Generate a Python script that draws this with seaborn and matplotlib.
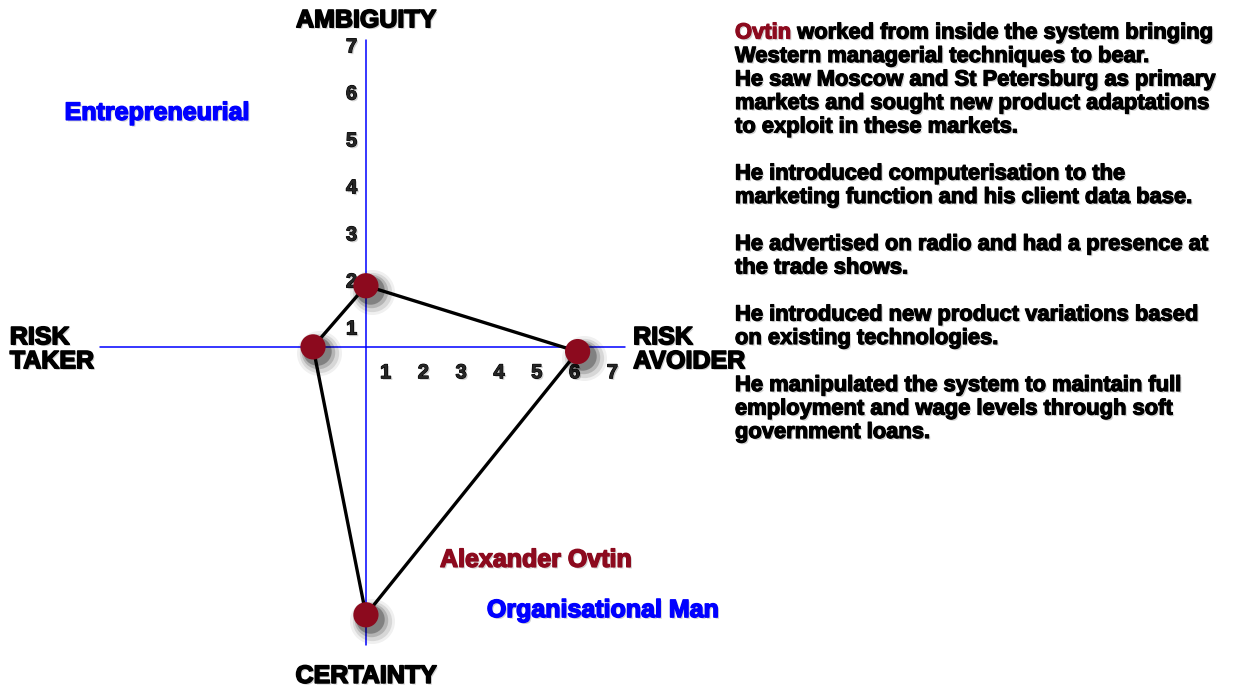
import matplotlib
matplotlib.use("Agg")
import matplotlib.pyplot as plt
import matplotlib.patheffects as pe
import matplotlib.transforms as mtrans
import pandas as pd
import seaborn as sns

# --- chart data (axis units, origin at the crossing of the two axes) ---
point_names = ["Ambiguity", "Risk avoider", "Certainty", "Risk taker"]
point_x = [0.0, 5.6, 0.0, -1.4]
point_y = [1.3, -0.1, -5.7, 0.0]

tick_values = [1, 2, 3, 4, 5, 6, 7]

story_lines = [
    "Western managerial techniques to bear.",
    "He saw Moscow and St Petersburg as primary",
    "markets and sought new product adaptations",
    "to exploit in these markets.",
    "",
    "He introduced computerisation to the",
    "marketing function and his client data base.",
    "",
    "He advertised on radio and had a presence at",
    "the trade shows.",
    "",
    "He introduced new product variations based",
    "on existing technologies.",
    "",
    "He manipulated the system to maintain full",
    "employment and wage levels through soft",
    "government loans.",
]

DARK_RED = "#8c0a1e"
BLUE = "#0000ff"

sns.set_style("white")
plt.rcParams["font.family"] = ["Liberation Sans", "DejaVu Sans"]
plt.rcParams["font.weight"] = "bold"

fig = plt.figure(figsize=(12.35, 6.9), dpi=100)
ax = fig.add_axes([0, 0, 1, 1])
ax.set_xlim(-9.68, 22.99)
ax.set_ylim(-7.30, 7.38)
ax.axis("off")


def heavy(color, width=0.9):
    # thicken the bold face a little and add a soft drop shadow
    return [pe.withSimplePatchShadow(offset=(1.2, -1.2), shadow_rgbFace="grey", alpha=0.35),
            pe.withStroke(linewidth=width, foreground=color)]


# --- axes cross ---
ax.plot([0, 0], [-6.34, 6.53], color=BLUE, lw=1.1, zorder=1)
ax.plot([-7.04, 6.85], [0, 0], color=BLUE, lw=1.1, zorder=1)

for v in tick_values:
    ax.text(v - 0.48, -0.55, str(v), ha="center", va="center", fontsize=14.5,
            fontweight="bold", path_effects=heavy("black", 0.8))
    ax.text(-0.38, v - 0.62, str(v), ha="center", va="center", fontsize=14.5,
            fontweight="bold", path_effects=heavy("black", 0.8))

# --- polygon joining the four positions ---
df = pd.DataFrame({"name": point_names, "x": point_x, "y": point_y})
closed = pd.concat([df, df.iloc[[0]]], ignore_index=True)
sns.lineplot(data=closed, x="x", y="y", sort=False, estimator=None,
             color="black", lw=2.4, ax=ax, zorder=2)

# blurred drop shadow under the markers
for off, size, a in [(6, 1050, 0.06), (6, 800, 0.10), (5, 580, 0.16), (4, 420, 0.28)]:
    shift = ax.transData + mtrans.ScaledTranslation(off / 100, -off / 100, fig.dpi_scale_trans)
    ax.scatter(df["x"], df["y"], s=size, color="black", alpha=a, linewidths=0,
               transform=shift, zorder=3)
sns.scatterplot(data=df, x="x", y="y", s=330, color=DARK_RED, edgecolor="none",
                ax=ax, zorder=4, legend=False)

# --- axis labels ---
big = dict(fontsize=18, fontweight="bold", color="black", path_effects=heavy("black", 1.2))
ax.text(0, 6.95, "AMBIGUITY", ha="center", va="center", **big)
ax.text(0, -7.0, "CERTAINTY", ha="center", va="center", **big)
ax.text(-9.42, -0.05, "RISK\nTAKER", ha="left", va="center", linespacing=1.0, **big)
ax.text(7.07, -0.05, "RISK\nAVOIDER", ha="left", va="center", linespacing=1.0, **big)

ax.text(-7.97, 4.98, "Entrepreneurial", ha="left", va="center", fontsize=18,
        fontweight="bold", color=BLUE, path_effects=heavy(BLUE, 1.1))
ax.text(3.2, -5.6, "Organisational Man", ha="left", va="center", fontsize=18,
        fontweight="bold", color=BLUE, path_effects=heavy(BLUE, 1.1))
ax.text(1.96, -4.53, "Alexander Ovtin", ha="left", va="center", fontsize=18,
        fontweight="bold", color=DARK_RED, path_effects=heavy(DARK_RED, 1.1))

# --- narrative panel ---
body = dict(fontsize=15.8, fontweight="bold")
first = fig.text(735 / 1235, 1 - 33 / 690, "Ovtin", ha="left", va="center",
                 color=DARK_RED, path_effects=heavy(DARK_RED), **body)
ax.annotate(" worked from inside the system bringing", xy=(1, 0.5),
            xycoords=first, ha="left", va="center", color="black",
            path_effects=heavy("black"), **body)
for i, line in enumerate(story_lines, start=1):
    if line:
        fig.text(735 / 1235, 1 - (33 + 23.5 * i) / 690, line, ha="left", va="center",
                 color="black", path_effects=heavy("black"), **body)

fig.savefig("out.png", dpi=100)
